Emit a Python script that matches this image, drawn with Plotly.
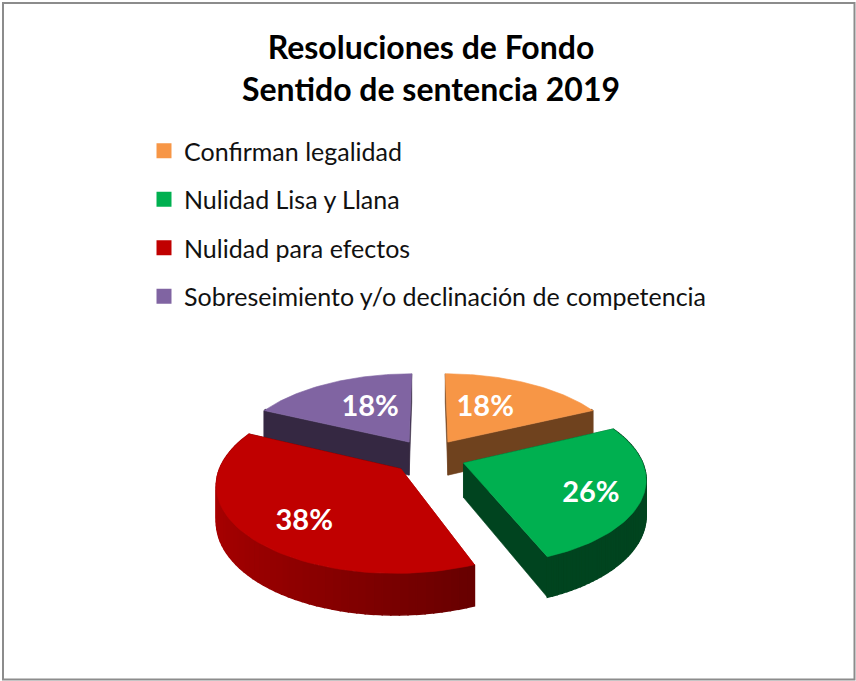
import numpy as np
import plotly.graph_objects as go

CATEGORIES = ["Confirman legalidad", "Nulidad Lisa y Llana", "Nulidad para efectos",
              "Sobreseimiento y/o declinación de competencia"]
VALUES = [18, 26, 38, 18]
TOP_COLORS = ["#F79646", "#00B050", "#C00000", "#8064A2"]
WALL_START = ["#6F421E", "#00441F", "#A80000", "#352842"]
WALL_END = ["#6F421E", "#00441F", "#4A0000", "#352842"]
DRAW_ORDER = [0, 3, 1, 2]
TITLE = "Resoluciones de Fondo<br>Sentido de sentencia 2019"

W, H = 856, 681
CX, CY, RX, RY, DEPTH, PERSP, EXPLODE = 428.5, 456.5, 177.0, 83.5, 34.0, 0.16, 0.21
LABEL_OFFSET_U = [0.24, 0.66, -0.47, -0.25]
LABEL_OFFSET_V = [0.445, -0.345, -0.56, 0.445]


def project(u, v, z=0.0):
    s = 1.0 / (1.0 + PERSP * v)
    return CX + RX * u * s, CY - RY * v * s + DEPTH * z * s


def mix(c1, c2, t):
    a = [int(c1[i:i + 2], 16) for i in (1, 3, 5)]
    b = [int(c2[i:i + 2], 16) for i in (1, 3, 5)]
    return "rgb(%d,%d,%d)" % tuple(round(p + (q - p) * t) for p, q in zip(a, b))


def poly(fig, x, y, color, width=0.6):
    fig.add_trace(go.Scatter(x=list(x) + [x[0]], y=list(y) + [y[0]], mode="lines",
                             fill="toself", fillcolor=color,
                             line=dict(color=color, width=width),
                             hoverinfo="skip", showlegend=False))


fractions = np.array(VALUES) / sum(VALUES)
edges = np.concatenate([[0], np.cumsum(fractions)]) * 2 * np.pi
fig = go.Figure()
label_x, label_y = [], []
for i in range(len(VALUES)):
    mid = (edges[i] + edges[i + 1]) / 2
    ou, ov = EXPLODE * np.sin(mid), EXPLODE * np.cos(mid)
    lx, ly = project(ou + LABEL_OFFSET_U[i], ov + LABEL_OFFSET_V[i])
    label_x.append(lx)
    label_y.append(ly)

for i in DRAW_ORDER:
    a0, a1 = edges[i], edges[i + 1]
    mid = (a0 + a1) / 2
    ou, ov = EXPLODE * np.sin(mid), EXPLODE * np.cos(mid)
    theta = np.linspace(a0, a1, 61)
    u, v = ou + np.sin(theta), ov + np.cos(theta)
    # radial walls
    for ang, col in ((a0, WALL_START[i]), (a1, WALL_END[i])):
        eu, ev = ou + np.sin(ang), ov + np.cos(ang)
        x1, y1 = project(ou, ov, 0)
        x2, y2 = project(eu, ev, 0)
        x3, y3 = project(eu, ev, 1)
        x4, y4 = project(ou, ov, 1)
        poly(fig, [x1, x2, x3, x4], [y1, y2, y3, y4], col)
    # outer wall, strip by strip, for the gradient
    for k in range(len(theta) - 1):
        if np.cos((theta[k] + theta[k + 1]) / 2) > 0.45:
            continue
        t = (np.sin(theta[k]) * -1 + 1) / 2
        col = mix(WALL_START[i], WALL_END[i], 1 - t)
        xa, ya = project(u[k], v[k], 0)
        xb, yb = project(u[k + 1], v[k + 1], 0)
        xc, yc = project(u[k + 1], v[k + 1], 1)
        xd, yd = project(u[k], v[k], 1)
        poly(fig, [xa, xb, xc, xd], [ya, yb, yc, yd], col, width=1.5)
    # top face
    xs, ys = project(np.concatenate([[ou], u]), np.concatenate([[ov], v]))
    poly(fig, xs, ys, TOP_COLORS[i])

fig.add_trace(go.Scatter(x=label_x, y=label_y, mode="text",
                         text=[f"{v}%" for v in VALUES],
                         textfont=dict(family="Lato", size=29, color="white", weight="bold"),
                         textposition="middle center", hoverinfo="skip", showlegend=False))

for name, color in zip(CATEGORIES, TOP_COLORS):
    fig.add_trace(go.Scatter(x=[None], y=[None], mode="markers", name=name, legendgroup=name,
                             marker=dict(symbol="square", size=15, color=color)))

fig.update_layout(
    width=W, height=H, margin=dict(l=0, r=0, t=0, b=0),
    paper_bgcolor="white", plot_bgcolor="white",
    xaxis=dict(range=[0, W], visible=False, fixedrange=True),
    yaxis=dict(range=[H, 0], visible=False, fixedrange=True),
    title=dict(text=TITLE, x=431 / W, xanchor="center", y=1 - 59 / H, yanchor="top",
               font=dict(family="Lato", size=32, color="black", weight="bold")),
    legend=dict(x=144 / W, y=1 - 128 / H, xanchor="left", yanchor="top",
                bgcolor="rgba(0,0,0,0)", tracegroupgap=13,
                font=dict(family="Lato", size=25, color="#111111")),
    shapes=[dict(type="rect", xref="x", yref="y", x0=3, y0=3, x1=854.5, y1=679.5,
                 line=dict(color="#8C8C8C", width=2))],
)
fig.write_html("out.html", config=dict(displayModeBar=False),
               post_script="document.body.style.margin='0';"
                           "document.documentElement.style.overflow='hidden';"
                           "var s=document.createElement('style');"
                           "s.textContent='text{font-variant-ligatures:none}';"
                           "document.head.appendChild(s);")
